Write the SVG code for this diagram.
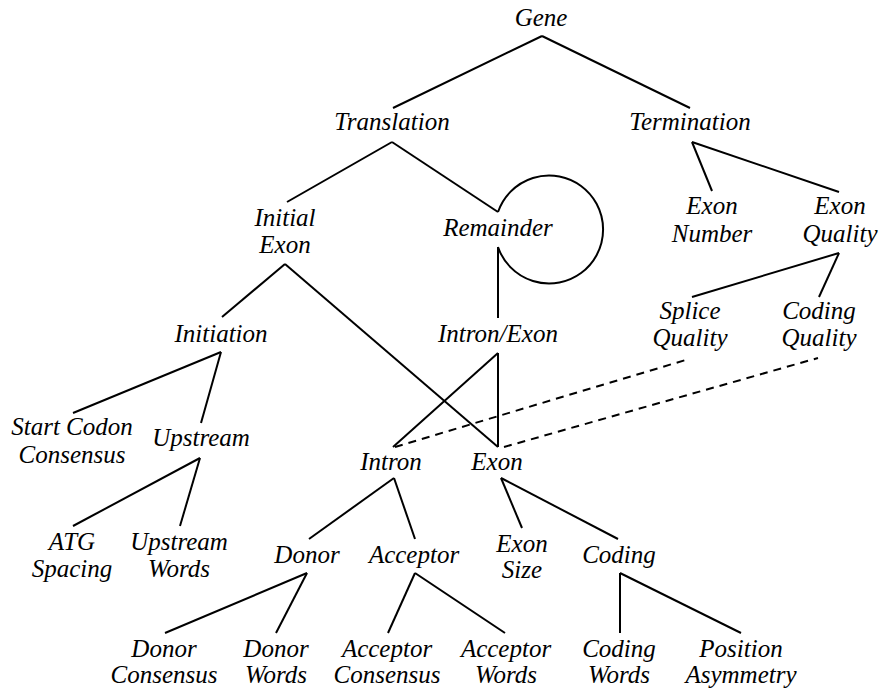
<svg xmlns="http://www.w3.org/2000/svg" width="879" height="689" viewBox="0 0 879 689">
<style>
.t text{font-family:'Liberation Serif',serif;font-style:italic;font-size:25px;fill:#000;text-anchor:middle}
.c line,.c path{stroke:#000;stroke-width:2;fill:none}
.c .d{stroke-dasharray:8 6}
</style>
<rect width="879" height="689" fill="#fff"/>
<g class="c" id="connectors">
<line x1="542" y1="36" x2="393" y2="108"/>
<line x1="542" y1="36" x2="690" y2="108"/>
<line x1="392" y1="142" x2="287" y2="202"/>
<line x1="392" y1="142" x2="498" y2="212"/>
<path d="M498,212 A54,54 0 1 1 498,247"/>
<line x1="498" y1="247" x2="498" y2="318"/>
<line x1="285" y1="264" x2="222" y2="317"/>
<line x1="285" y1="264" x2="498" y2="447"/>
<line x1="498" y1="353" x2="393" y2="447"/>
<line x1="498" y1="353" x2="498" y2="447"/>
<line class="d" x1="395" y1="447" x2="689" y2="359"/>
<line class="d" x1="504" y1="447" x2="818" y2="358"/>
<line x1="692" y1="142" x2="712" y2="191"/>
<line x1="692" y1="142" x2="839" y2="192"/>
<line x1="839" y1="253" x2="692" y2="297"/>
<line x1="839" y1="253" x2="819" y2="297"/>
<line x1="221" y1="352" x2="73" y2="413"/>
<line x1="221" y1="352" x2="201" y2="423"/>
<line x1="200" y1="458" x2="73" y2="526"/>
<line x1="200" y1="458" x2="180" y2="526"/>
<line x1="394" y1="478" x2="309" y2="539"/>
<line x1="394" y1="478" x2="415" y2="539"/>
<line x1="501" y1="478" x2="522" y2="528"/>
<line x1="501" y1="478" x2="618" y2="539"/>
<line x1="307" y1="573" x2="165" y2="633"/>
<line x1="307" y1="573" x2="276" y2="633"/>
<line x1="415" y1="573" x2="388" y2="633"/>
<line x1="415" y1="573" x2="505" y2="633"/>
<line x1="620" y1="573" x2="620" y2="633"/>
<line x1="620" y1="573" x2="741" y2="633"/>
</g>
<g class="t" font-family="Liberation Serif, serif" font-style="italic">
<g id="gene"><text x="541" y="26">Gene</text></g>
<g id="translation"><text x="392" y="130">Translation</text></g>
<g id="termination"><text x="690" y="130">Termination</text></g>
<g id="initial-exon"><text x="285" y="226">Initial</text><text x="285" y="253">Exon</text></g>
<g id="remainder"><text x="498" y="236">Remainder</text></g>
<g id="exon-number"><text x="712" y="214">Exon</text><text x="712" y="242">Number</text></g>
<g id="exon-quality"><text x="840" y="214">Exon</text><text x="840" y="242">Quality</text></g>
<g id="splice-quality"><text x="690" y="319">Splice</text><text x="690" y="346">Quality</text></g>
<g id="coding-quality"><text x="819" y="319">Coding</text><text x="819" y="346">Quality</text></g>
<g id="intron-exon"><text x="498" y="342">Intron/Exon</text></g>
<g id="initiation"><text x="221" y="342">Initiation</text></g>
<g id="start-codon"><text x="72" y="435">Start Codon</text><text x="72" y="463">Consensus</text></g>
<g id="upstream"><text x="201" y="446">Upstream</text></g>
<g id="intron"><text x="391" y="470">Intron</text></g>
<g id="exon"><text x="497" y="470">Exon</text></g>
<g id="atg-spacing"><text x="72" y="550">ATG</text><text x="72" y="577">Spacing</text></g>
<g id="upstream-words"><text x="179" y="550">Upstream</text><text x="179" y="577">Words</text></g>
<g id="donor"><text x="307" y="563">Donor</text></g>
<g id="acceptor"><text x="414" y="563">Acceptor</text></g>
<g id="exon-size"><text x="522" y="552">Exon</text><text x="522" y="578">Size</text></g>
<g id="coding"><text x="619" y="563">Coding</text></g>
<g id="donor-consensus"><text x="164" y="657">Donor</text><text x="164" y="683">Consensus</text></g>
<g id="donor-words"><text x="276" y="657">Donor</text><text x="276" y="683">Words</text></g>
<g id="acceptor-consensus"><text x="387" y="657">Acceptor</text><text x="387" y="683">Consensus</text></g>
<g id="acceptor-words"><text x="506" y="657">Acceptor</text><text x="506" y="683">Words</text></g>
<g id="coding-words"><text x="619" y="657">Coding</text><text x="619" y="683">Words</text></g>
<g id="position-asymmetry"><text x="741" y="657">Position</text><text x="741" y="683">Asymmetry</text></g>
</g>
</svg>
